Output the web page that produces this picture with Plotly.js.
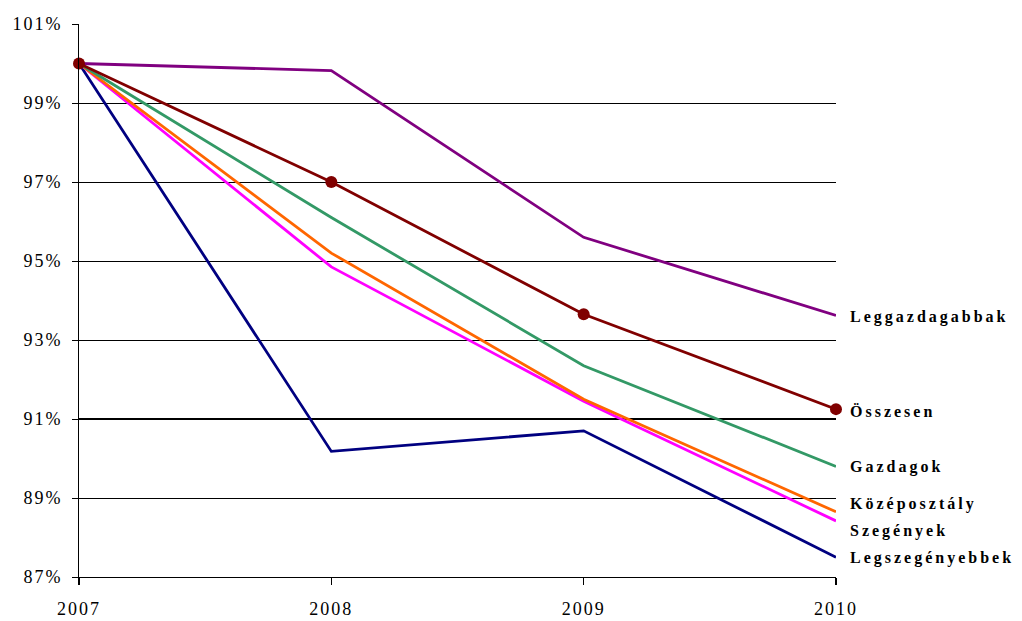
<!DOCTYPE html>
<html>
<head>
<meta charset="utf-8">
<script src="https://cdn.plot.ly/plotly-3.0.1.min.js"></script>
<style>
body{margin:0;padding:0;background:#fff;}
#chart .annotation-text{letter-spacing:3px;}
#chart .xtick text,#chart .ytick text{letter-spacing:2px;}
</style>
</head>
<body>
<div id="chart" style="width:1022px;height:621px;"></div>
<script>
const years = [2007, 2008, 2009, 2010];
const leggazdagabbak = [100, 99.82, 95.6, 93.62];
const osszesen = [100, 97.0, 93.65, 91.25];
const gazdagok = [100, 96.1, 92.35, 89.8];
const kozeposztaly = [100, 95.2, 91.5, 88.65];
const szegenyek = [100, 94.85, 91.45, 88.42];
const legszegenyebbek = [100, 90.18, 90.7, 87.5];

const seriesNames = ['Leggazdagabbak', 'Összesen', 'Gazdagok', 'Középosztály', 'Szegények', 'Legszegényebbek'];
const seriesValues = [leggazdagabbak, osszesen, gazdagok, kozeposztaly, szegenyek, legszegenyebbek];
const seriesColors = ['#800080', '#800000', '#339966', '#FF6600', '#FF00FF', '#000080'];
const labelY = [93.58, 91.2, 89.78, 88.85, 88.16, 87.48];
const gridValues = [89, 91, 93, 95, 97, 99];
const yTicks = [87, 89, 91, 93, 95, 97, 99, 101];

const drawOrder = [5, 4, 3, 2, 0, 1];
const traces = [{
  x: [years[0]], y: [gridValues[0]], yaxis: 'y2', mode: 'markers',
  marker: {opacity: 0}, showlegend: false, hoverinfo: 'skip'
}].concat(drawOrder.map(i => ({
  x: years,
  y: seriesValues[i],
  type: 'scatter',
  mode: i === 1 ? 'lines+markers' : 'lines',
  name: seriesNames[i],
  line: {color: seriesColors[i], width: 2.8},
  marker: {color: seriesColors[i], size: 12},
  cliponaxis: false,
  showlegend: false
})));

const shapes = [{
  type: 'line', xref: 'paper', x0: 0, x1: 1, yref: 'y', y0: gridValues[1], y1: gridValues[1],
  line: {color: '#000', width: 2}, layer: 'below'
}];

const annotations = seriesNames.map((n, i) => ({
  text: '<b>' + n + '</b>', xref: 'paper', x: 1, xshift: 12, xanchor: 'left', align: 'left',
  yref: 'y', y: labelY[i], yanchor: 'middle', showarrow: false,
  font: {family: 'Liberation Serif, Times New Roman, serif', size: 16, color: '#000'}
}));

const layout = {
  width: 1022, height: 621,
  margin: {l: 79, r: 186, t: 24, b: 44},
  paper_bgcolor: '#fff', plot_bgcolor: '#fff',
  font: {family: 'Liberation Serif, Times New Roman, serif', size: 18, color: '#000'},
  xaxis: {
    range: [2007, 2010], tickvals: years, ticktext: years.map(String),
    showgrid: false, zeroline: false, showline: true, linecolor: '#000', linewidth: 1,
    ticks: 'outside', ticklen: 7, tickcolor: '#000', tickwidth: 1.5,
    tickfont: {size: 18}, ticklabelstandoff: 8
  },
  yaxis: {
    range: [87, 101], tickvals: yTicks, ticktext: yTicks.map(v => v + '%'),
    showgrid: false, zeroline: false, showline: true, linecolor: '#000', linewidth: 1,
    ticks: 'outside', ticklen: 6, tickcolor: '#000', tickwidth: 1,
    tickfont: {size: 18}, ticklabelstandoff: 6
  },
  yaxis2: {
    range: [87, 101], overlaying: 'y', tickvals: gridValues, showticklabels: false,
    showgrid: true, gridcolor: '#000', gridwidth: 1, zeroline: false, showline: false, ticks: ''
  },
  shapes: shapes,
  annotations: annotations
};

Plotly.newPlot('chart', traces, layout, {displayModeBar: false, staticPlot: true});
</script>
</body>
</html>
